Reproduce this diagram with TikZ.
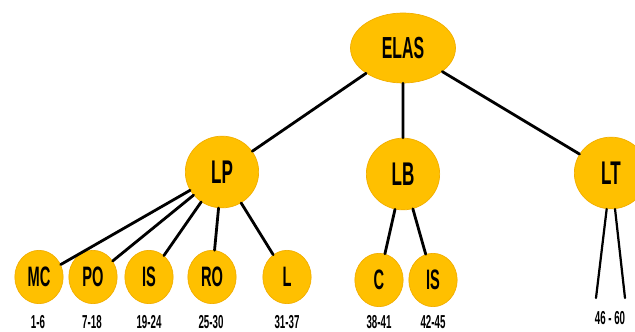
\documentclass[tikz,border=0pt]{standalone}
\usepackage{fontspec}
\usetikzlibrary{shapes.geometric}
\newfontfamily\ballfont[FakeStretch=0.52]{Liberation Sans}
\definecolor{ballgold}{HTML}{FFC000}
\definecolor{ballrim}{HTML}{F2AE00}
\tikzset{
  ball/.style={ellipse, fill=ballgold, draw=ballrim, line width=0.6pt, inner sep=0pt,
    font=\ballfont\bfseries\fontsize{28}{28}\selectfont},
  topball/.style={ball, minimum width=3.15cm, minimum height=2.1cm,
    font=\ballfont\bfseries\fontsize{26}{26}\selectfont},
  midball/.style={ball, minimum width=2.2cm, minimum height=2.15cm},
  leafball/.style={ball, minimum width=1.45cm, minimum height=1.6cm,
    font=\ballfont\bfseries\fontsize{24}{24}\selectfont},
  itemrange/.style={font=\ballfont\bfseries\fontsize{16}{16}\selectfont, inner sep=0pt},
  branch/.style={line width=2.4pt, line cap=round}
}
\begin{document}
\begin{tikzpicture}[x=0.03cm,y=-0.03cm]
\useasboundingbox (0,0) rectangle (635,332);

%draw the tree
\node [topball] (elas) at (403,48) {ELAS};
\node [midball] (lp) at (222,172) {LP};
\node [midball] (lb) at (403,174) {LB};
\node [midball] (lt) at (611,173) {LT};

\node [leafball] (mc) at (39,277) {MC};
\node [leafball] (po) at (93,277) {PO};
\node [leafball] (is) at (149,277) {IS};
\node [leafball] (ro) at (212,277) {RO};
\node [leafball] (l) at (287,277) {L};
\node [leafball] (c) at (379,280) {C};
\node [leafball] (isb) at (433,280) {IS};

\coordinate (ltleft) at (596,298);
\coordinate (ltright) at (625,298);

\draw [branch] (elas) -- (lp)  (elas) -- (lb)  (elas) -- (lt);
\foreach \leaf in {mc,po,is,ro,l} \draw [branch] (lp) -- (\leaf);
\foreach \leaf in {c,isb} \draw [branch] (lb) -- (\leaf);
\foreach \leaf in {ltleft,ltright} \draw [branch, line width=1.9pt] (lt) -- (\leaf);

%draw the item ranges
\node [itemrange] (rmc) at (38,322) {1-6};
\node [itemrange] (rpo) at (92,322) {7-18};
\node [itemrange] (ris) at (149,322) {19-24};
\node [itemrange] (rro) at (211,322) {25-30};
\node [itemrange] (rl) at (287,322) {31-37};
\node [itemrange] (rc) at (379,322) {38-41};
\node [itemrange] (risb) at (433,322) {42-45};
\node [itemrange] (rlt) at (610,318) {46 - 60};

\end{tikzpicture}
\end{document}
